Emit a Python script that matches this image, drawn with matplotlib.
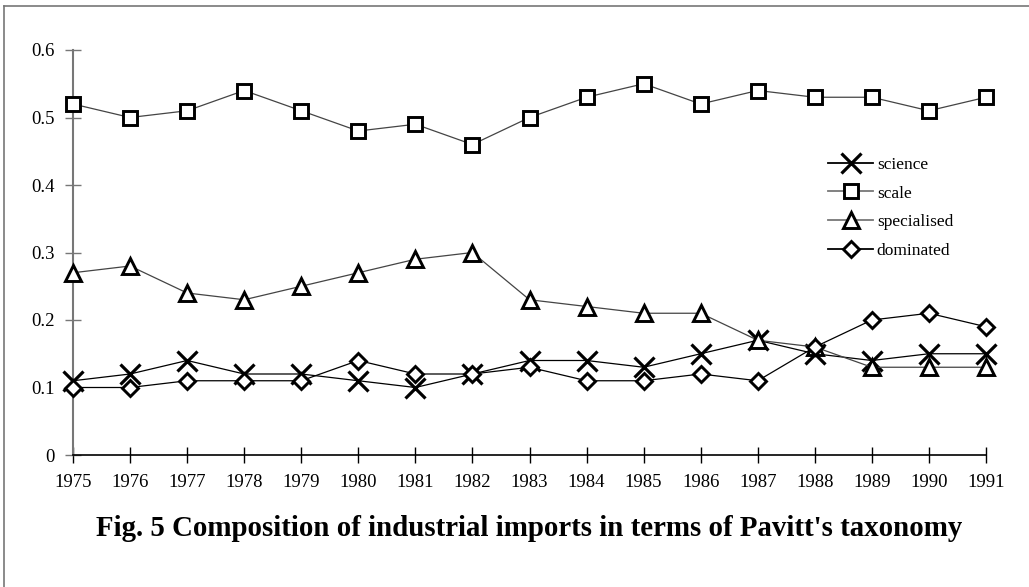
import matplotlib.pyplot as plt
from matplotlib.lines import Line2D

plt.rcParams.update({
    "font.family": ["Liberation Serif", "DejaVu Serif"],
})

years = list(range(1975, 1992))
science = [0.11, 0.12, 0.14, 0.12, 0.12, 0.11, 0.10, 0.12, 0.14, 0.14,
           0.13, 0.15, 0.17, 0.15, 0.14, 0.15, 0.15]
scale = [0.52, 0.50, 0.51, 0.54, 0.51, 0.48, 0.49, 0.46, 0.50, 0.53,
         0.55, 0.52, 0.54, 0.53, 0.53, 0.51, 0.53]
specialised = [0.27, 0.28, 0.24, 0.23, 0.25, 0.27, 0.29, 0.30, 0.23, 0.22,
               0.21, 0.21, 0.17, 0.16, 0.13, 0.13, 0.13]
dominated = [0.10, 0.10, 0.11, 0.11, 0.11, 0.14, 0.12, 0.12, 0.13, 0.11,
             0.11, 0.12, 0.11, 0.16, 0.20, 0.21, 0.19]
yticks = [0, 0.1, 0.2, 0.3, 0.4, 0.5, 0.6]
ytick_labels = ["0", "0.1", "0.2", "0.3", "0.4", "0.5", "0.6"]

GREY = "#777777"

fig = plt.figure(figsize=(10.29, 5.87), dpi=100)
ax = fig.add_axes([73 / 1029, 1 - 455 / 587, (986 - 73) / 1029, 405 / 587])

series = [
    ("science", science, "x", "black", 14, 2.3),
    ("scale", scale, "s", "#444444", 10.5, 2.1),
    ("specialised", specialised, "^", "#444444", 11.5, 2.1),
    ("dominated", dominated, "D", "black", 8.5, 2.1),
]
for name, vals, mk, lc, ms, mew in series:
    ax.plot(years, vals, color=lc, lw=0.9, marker=mk, ms=ms, mew=mew,
            mec="black", mfc="white", label=name, clip_on=False, zorder=3)

ax.set_xlim(1975, 1991)
ax.set_ylim(0, 0.6)
ax.set_xticks(years)
ax.set_yticks(yticks)
ax.set_yticklabels(ytick_labels)
ax.tick_params(axis="both", direction="inout", length=12, width=1,
               labelsize=13.5, colors="black")
ax.tick_params(axis="y", color=GREY, pad=7)
ax.tick_params(axis="x", pad=8)
for side in ("top", "right"):
    ax.spines[side].set_visible(False)
ax.spines["left"].set_color(GREY)
ax.spines["left"].set_linewidth(1.5)
ax.spines["bottom"].set_linewidth(1.2)

handles = [Line2D([], [], color=GREY if lc != "black" else lc, lw=1.3,
                  marker=mk, ms=ms, mew=mew, mec="black", mfc="white")
           for _, _, mk, lc, ms, mew in series]
ax.legend(handles, [s[0] for s in series], loc="upper left",
          bbox_to_anchor=(0.81, 0.775), frameon=False, fontsize=12.5,
          handlelength=2.6, handletextpad=0.2, labelspacing=0.72)

fig.text(529 / 1029, 1 - 528 / 587,
         "Fig. 5 Composition of industrial imports in terms of Pavitt's taxonomy",
         ha="center", va="center", fontsize=20.8, fontweight="bold")

# frame lines of the original page box
fig.add_artist(Line2D([4 / 1029, 1], [1 - 6 / 587, 1 - 6 / 587], color=GREY, lw=1.2))
fig.add_artist(Line2D([4 / 1029, 4 / 1029], [0, 1 - 6 / 587], color=GREY, lw=1.2))

fig.savefig("out.png", dpi=100)
